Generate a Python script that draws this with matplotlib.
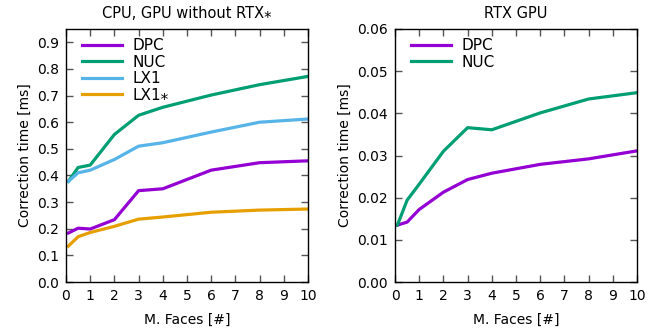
"""Correction time vs. number of faces, CPU/GPU and RTX GPU."""
import matplotlib
matplotlib.use('Agg')
from matplotlib import pyplot as plt

faces = [0.1, 0.5, 1, 2, 3, 4, 6, 8, 10]

# CPU, GPU without RTX
dpc_cpu = [0.184, 0.202, 0.199, 0.234, 0.343, 0.350, 0.420, 0.448, 0.455]
nuc_cpu = [0.378, 0.430, 0.439, 0.554, 0.626, 0.656, 0.702, 0.741, 0.772]
lx1_cpu = [0.378, 0.410, 0.420, 0.460, 0.510, 0.523, 0.563, 0.600, 0.612]
lx1s_cpu = [0.135, 0.170, 0.186, 0.209, 0.236, 0.244, 0.262, 0.270, 0.274]

# RTX GPU
dpc_rtx = [0.0135, 0.0142, 0.0172, 0.0213, 0.0243, 0.0258, 0.0279, 0.0292, 0.0311]
nuc_rtx = [0.0135, 0.0194, 0.0232, 0.0310, 0.0366, 0.0361, 0.0401, 0.0434, 0.0449]

purple = '#9400d3'
green = '#009e73'
blue = '#56b4e9'
orange = '#e69f00'

plt.rcParams['font.family'] = ['DejaVu Sans']
plt.rcParams['font.size'] = 10

fig = plt.figure(figsize=(6.7, 3.31), dpi=100)
ax1 = fig.add_axes([66 / 670, 49 / 331, 242 / 670, 253 / 331])
ax2 = fig.add_axes([395 / 670, 49 / 331, 242 / 670, 253 / 331])


def style(ax):
    ax.tick_params(direction='in', top=True, right=True, length=5,
                   width=1, color='#555555', labelsize=10, pad=5)
    for s in ax.spines.values():
        s.set_linewidth(1)
    ax.set_xlim(0, 10)
    ax.set_xticks(range(0, 11))
    ax.set_xlabel('M. Faces [#]', labelpad=7)
    ax.set_ylabel('Correction time [ms]')


leg_kw = dict(loc='upper left', bbox_to_anchor=(0.03, 1.0), frameon=False,
              handlelength=2.6, borderaxespad=0.2, labelspacing=0.1,
              handletextpad=0.7, fontsize=11)

lw = 2.3
ax1.plot(faces, dpc_cpu, color=purple, lw=lw, label='DPC')
ax1.plot(faces, nuc_cpu, color=green, lw=lw, label='NUC')
ax1.plot(faces, lx1_cpu, color=blue, lw=lw, label='LX1')
ax1.plot(faces, lx1s_cpu, color=orange, lw=lw, label='LX1\u204e')
style(ax1)
ax1.set_ylim(0, 0.95)
ax1.set_yticks([i / 10 for i in range(10)])
ax1.set_yticklabels(['%.1f' % (i / 10) for i in range(10)])
ax1.set_title('CPU, GPU without RTX\u204e', fontsize=10.5, pad=8)
ax1.legend(**leg_kw)

ax2.plot(faces, dpc_rtx, color=purple, lw=lw, label='DPC')
ax2.plot(faces, nuc_rtx, color=green, lw=lw, label='NUC')
style(ax2)
ax2.set_ylim(0, 0.06)
ax2.set_yticks([i / 100 for i in range(7)])
ax2.set_yticklabels(['%.2f' % (i / 100) for i in range(7)])
ax2.set_title('RTX GPU', fontsize=10.5, pad=8)
ax2.legend(**leg_kw)

fig.savefig('out.png', dpi=100)
